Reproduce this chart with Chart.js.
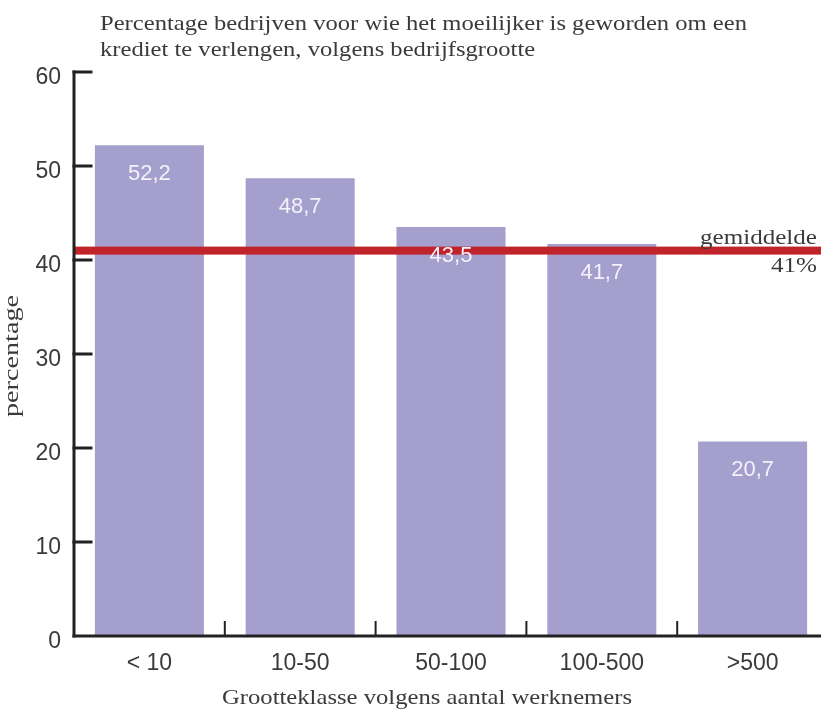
<!DOCTYPE html>
<html>
<head>
<meta charset="utf-8">
<script src="https://cdn.jsdelivr.net/npm/chart.js@4/dist/chart.umd.min.js"></script>
<style>
  html, body { margin: 0; padding: 0; background: #fff; overflow: hidden; width: 821px; height: 709px; }
  #wrap { position: absolute; left: 0; top: 0; width: 830px; height: 709px; }
</style>
</head>
<body>
<div id="wrap"><canvas id="c" width="830" height="709"></canvas></div>
<script>
// Chart data
const categories = ['< 10', '10-50', '50-100', '100-500', '>500'];
const percentages = [52.2, 48.7, 43.5, 41.7, 20.7];
const averageValue = 41;
const averageLabel = ['gemiddelde', '41%'];
const yTickValues = [0, 10, 20, 30, 40, 50, 60];
const titleLines = [
  'Percentage bedrijven voor wie het moeilijker is geworden om een',
  'krediet te verlengen, volgens bedrijfsgrootte'
];
const xAxisTitle = 'Grootteklasse volgens aantal werknemers';
const yAxisTitle = 'percentage';

const BAR = '#a49fcc';
const RED = '#c1232b';
const INK = '#3a3a3a';
const AXIS = '#222222';
const SANS = '"Liberation Sans", Arial, sans-serif';
const SERIF = '"Liberation Serif", "Times New Roman", serif';

// Draw text stretched horizontally to a given width
function fitText(ctx, text, x, y, width, align) {
  const w = ctx.measureText(text).width;
  const s = width / w;
  ctx.save();
  ctx.translate(x, y);
  ctx.scale(s, 1);
  ctx.textAlign = align;
  ctx.fillText(text, 0, 0);
  ctx.restore();
}

const decorations = {
  id: 'decorations',
  afterDatasetsDraw(chart) {
    const ctx = chart.ctx;
    const xs = chart.scales.x;
    const ys = chart.scales.y;
    const area = chart.chartArea;

    // Average line
    const yAvg = ys.getPixelForValue(averageValue);
    ctx.save();
    ctx.fillStyle = RED;
    ctx.fillRect(area.left, yAvg - 4, chart.width - area.left, 8);
    ctx.restore();

    // Value labels inside the bars
    const meta = chart.getDatasetMeta(0);
    ctx.save();
    ctx.fillStyle = '#f3f2f9';
    ctx.font = '22px ' + SANS;
    ctx.textAlign = 'center';
    ctx.textBaseline = 'middle';
    meta.data.forEach((bar, i) => {
      const label = percentages[i].toFixed(1).replace('.', ',');
      ctx.fillText(label, bar.x, bar.y + 29);
    });
    ctx.restore();

    // Axes with inward tick marks
    ctx.save();
    ctx.fillStyle = AXIS;
    const axisX = area.left - 1.5;
    const top = ys.getPixelForValue(60);
    const bottom = ys.getPixelForValue(0);
    ctx.fillRect(axisX, top - 1.5, 3, bottom - top + 3);
    yTickValues.forEach(v => {
      if (v === 0) return;
      const py = ys.getPixelForValue(v);
      ctx.fillRect(axisX, py - 1.5, 20, 3);
    });
    ctx.fillRect(axisX, bottom - 1.5, chart.width - axisX, 3);
    for (let i = 1; i < categories.length; i++) {
      const px = (xs.getPixelForValue(i - 1) + xs.getPixelForValue(i)) / 2;
      ctx.fillRect(px - 1, bottom - 15, 2, 15);
    }
    ctx.restore();

    // Average annotation
    ctx.save();
    ctx.fillStyle = INK;
    ctx.font = '21px ' + SERIF;
    ctx.textBaseline = 'alphabetic';
    const sAvg = 117 / ctx.measureText(averageLabel[0]).width;
    const w2 = ctx.measureText(averageLabel[1]).width * sAvg;
    fitText(ctx, averageLabel[0], 817, yAvg - 7, 117, 'right');
    fitText(ctx, averageLabel[1], 817, yAvg + 21, w2, 'right');
    ctx.restore();

    // Title
    ctx.save();
    ctx.fillStyle = INK;
    ctx.font = '22px ' + SERIF;
    ctx.textBaseline = 'alphabetic';
    const sT = 647 / ctx.measureText(titleLines[0]).width;
    fitText(ctx, titleLines[0], 100, 30, 647, 'left');
    fitText(ctx, titleLines[1], 100, 56, ctx.measureText(titleLines[1]).width * sT, 'left');
    ctx.restore();

    // Axis titles
    ctx.save();
    ctx.fillStyle = INK;
    ctx.font = '21px ' + SERIF;
    ctx.textBaseline = 'alphabetic';
    fitText(ctx, xAxisTitle, 427, 704, 410, 'center');
    ctx.translate(18, 356);
    ctx.rotate(-Math.PI / 2);
    fitText(ctx, yAxisTitle, 0, 0, 122, 'center');
    ctx.restore();
  }
};

new Chart(document.getElementById('c'), {
  type: 'bar',
  data: {
    labels: categories,
    datasets: [{
      data: percentages,
      backgroundColor: BAR,
      borderWidth: 0,
      categoryPercentage: 1,
      barPercentage: 0.723
    }]
  },
  options: {
    responsive: false,
    animation: false,
    devicePixelRatio: 1,
    layout: { padding: { top: 72, right: 2, bottom: 0, left: 0 } },
    plugins: { legend: { display: false }, title: { display: false }, tooltip: { enabled: false } },
    scales: {
      x: {
        grid: { display: false, drawTicks: false },
        border: { display: false },
        ticks: { color: INK, font: { family: SANS, size: 23 }, padding: 14, maxRotation: 0 },
        afterFit(scale) { scale.height = 73; }
      },
      y: {
        min: 0,
        max: 60,
        afterBuildTicks(scale) { scale.ticks = yTickValues.map(v => ({ value: v })); },
        grid: { display: false, drawTicks: false },
        border: { display: false },
        ticks: { color: INK, font: { family: SANS, size: 23 }, padding: 13, labelOffset: 6 },
        afterFit(scale) { scale.width = 74; }
      }
    }
  },
  plugins: [decorations]
});
</script>
</body>
</html>
